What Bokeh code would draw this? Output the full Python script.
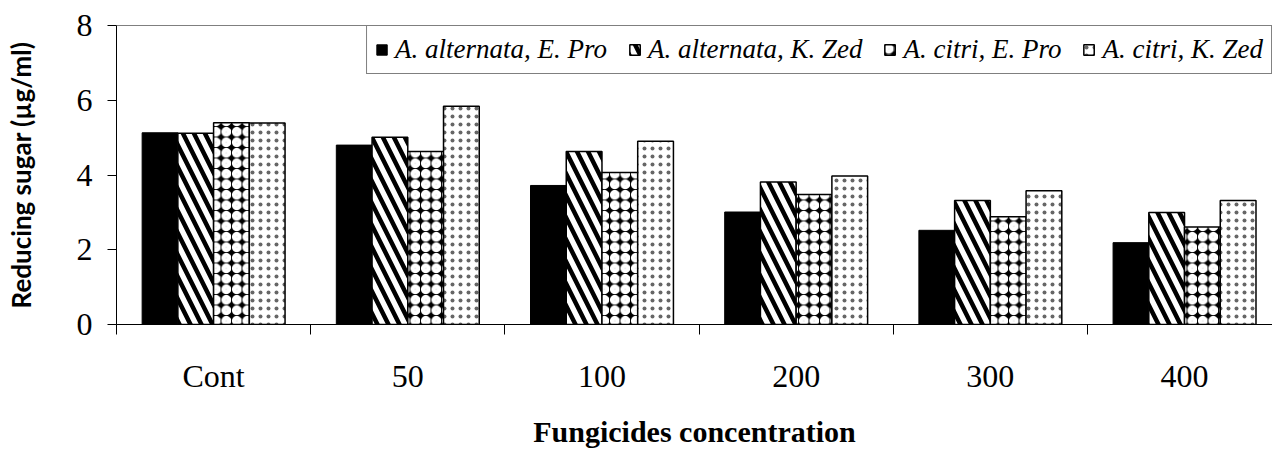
from bokeh.plotting import figure
from bokeh.models import Range1d, FixedTicker, Span, Legend, LegendItem, ColumnDataSource
from bokeh.transform import dodge
from bokeh.embed import file_html
from bokeh.resources import INLINE

categories = ["Cont", "50", "100", "200", "300", "400"]
alt_epro = [5.13, 4.80, 3.72, 3.01, 2.52, 2.19]
alt_kzed = [5.12, 5.01, 4.63, 3.81, 3.32, 3.00]
citri_epro = [5.40, 4.63, 4.07, 3.48, 2.88, 2.61]
citri_kzed = [5.39, 5.84, 4.90, 3.97, 3.58, 3.32]
series_names = ["A. alternata, E. Pro", "A. alternata, K. Zed",
                "A. citri, E. Pro", "A. citri, K. Zed"]
y_ticks = [0, 2, 4, 6, 8]

pos = [i + 0.5 for i in range(len(categories))]
src = ColumnDataSource(dict(x=pos, s1=alt_epro, s2=alt_kzed, s3=citri_epro, s4=citri_kzed))

p = figure(width=1272, height=450, output_backend="svg", toolbar_location=None,
           x_range=Range1d(0, 5.953), y_range=Range1d(0, 8),
           min_border_left=116, min_border_right=0, min_border_top=25, min_border_bottom=123)
p.outline_line_color = None
p.grid.visible = False
p.background_fill_color = "white"
p.border_fill_color = "white"

bw = 0.184
offsets = [-1.5 * bw, -0.5 * bw, 0.5 * bw, 1.5 * bw]
styles = [
    dict(fill_color="black", line_color="black", line_width=1),
    dict(fill_color="white", line_color="black", line_width=1.5,
         hatch_pattern="\\", hatch_color="black", hatch_scale=22, hatch_weight=4.5),
    dict(fill_color="black", line_color="black", line_width=1.5,
         hatch_pattern="o", hatch_color="white", hatch_scale=10.5, hatch_weight=4.6),
    dict(fill_color="white", line_color="black", line_width=1.5,
         hatch_pattern=".", hatch_color="#666666", hatch_scale=8, hatch_weight=1),
]
renderers = []
for k, col in enumerate(["s1", "s2", "s3", "s4"]):
    r = p.vbar(x=dodge("x", offsets[k], range=p.x_range), top=col, width=bw,
               source=src, **styles[k])
    renderers.append(r)

xa = p.xaxis[0]
xa.ticker = FixedTicker(ticks=pos, minor_ticks=list(range(len(categories) + 1)))
xa.major_label_overrides = {p_: c for p_, c in zip(pos, categories)}
xa.major_tick_out = 0
xa.major_tick_in = 0
xa.minor_tick_out = 10
xa.minor_tick_in = 0
xa.minor_tick_line_color = "black"
xa.axis_line_color = "black"
xa.major_label_text_font = "Liberation Serif"
xa.major_label_text_font_size = "32px"
xa.major_label_text_color = "black"
xa.major_label_standoff = 23
xa.axis_label = "Fungicides concentration"
xa.axis_label_text_font = "Liberation Serif"
xa.axis_label_text_font_style = "bold"
xa.axis_label_text_font_size = "30px"
xa.axis_label_text_color = "black"
xa.axis_label_standoff = 18

ya = p.yaxis[0]
ya.ticker = FixedTicker(ticks=y_ticks, minor_ticks=[])
ya.major_tick_out = 9
ya.major_tick_in = 0
ya.major_tick_line_color = "black"
ya.axis_line_color = "black"
ya.major_label_text_font = "Liberation Serif"
ya.major_label_text_font_size = "32px"
ya.major_label_text_color = "black"
ya.major_label_standoff = 15
ya.axis_label = "Reducing sugar (µg/ml)"
ya.axis_label_text_font = "Lato"
ya.axis_label_text_font_style = "bold"
ya.axis_label_text_font_size = "26px"
ya.axis_label_text_color = "black"
ya.axis_label_standoff = 37

p.add_layout(Span(location=8, dimension="width", line_color="black", line_width=1))

legend = Legend(items=[LegendItem(label=n, renderers=[r]) for n, r in zip(series_names, renderers)],
                orientation="horizontal", location="top_right", margin=0,
                border_line_color="black", border_line_width=1,
                label_text_font="Liberation Serif", label_text_font_style="italic",
                label_text_font_size="27px", label_text_color="black",
                glyph_width=13, glyph_height=13, label_standoff=7, spacing=21,
                padding=8, background_fill_alpha=1)
p.add_layout(legend)

open("out.html", "w").write(file_html(p, INLINE))
